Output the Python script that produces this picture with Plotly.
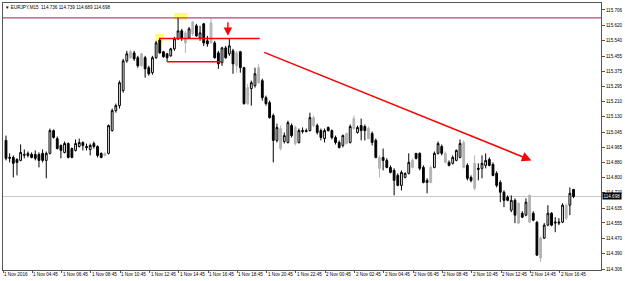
import plotly.graph_objects as go

symbol_title = "EURJPY,M15"
bid_price = 114.698

open_ = [
    115.001, 114.904, 114.909, 114.898, 114.893, 114.920, 114.920, 114.925, 114.925, 114.925,
    114.931, 114.893, 114.931, 115.054, 115.011, 114.974, 114.936, 114.984, 114.957, 114.947,
    114.968, 114.990, 114.968, 114.952, 114.984, 114.968, 114.931, 114.920, 114.931, 115.054,
    115.162, 115.189, 115.270, 115.431, 115.448, 115.474, 115.448, 115.404, 115.448, 115.394,
    115.367, 115.448, 115.544, 115.480, 115.469, 115.458, 115.496, 115.550, 115.593, 115.582,
    115.555, 115.577, 115.620, 115.555, 115.631, 115.539, 115.528, 115.528, 115.474, 115.421,
    115.501, 115.469, 115.485, 115.474, 115.480, 115.394, 115.200, 115.281, 115.297, 115.313,
    115.324, 115.232, 115.205, 115.135, 115.001, 115.065, 114.995, 114.990, 115.081, 115.071,
    114.990, 115.049, 115.054, 115.054, 115.124, 115.081, 115.054, 115.011, 115.071, 115.054,
    115.017, 114.990, 114.974, 115.038, 114.990, 115.119, 115.044, 115.081, 115.076, 115.065,
    115.038, 115.001, 114.909, 114.909, 114.893, 114.855, 114.839, 114.812, 114.758, 114.801,
    114.823, 114.855, 114.931, 114.931, 114.855, 114.774, 114.774, 114.855, 114.931, 114.968,
    114.931, 114.882, 114.877, 114.893, 114.909, 114.990, 114.866, 114.801, 114.877, 114.844,
    114.850, 114.866, 114.898, 114.871, 114.823, 114.774, 114.721, 114.694, 114.624, 114.677,
    114.661, 114.607, 114.597, 114.704, 114.607, 114.559, 114.365, 114.473, 114.543, 114.607,
    114.554, 114.554, 114.559, 114.581, 114.651, 114.736,
]
high = [
    115.027, 114.931, 114.920, 114.904, 114.979, 114.952, 114.941, 114.936, 114.947, 114.936,
    114.952, 114.941, 115.065, 115.060, 115.022, 114.979, 114.995, 114.990, 114.963, 115.006,
    115.011, 114.995, 114.984, 114.984, 114.995, 114.974, 114.936, 114.936, 115.087, 115.173,
    115.200, 115.324, 115.442, 115.485, 115.491, 115.485, 115.458, 115.474, 115.458, 115.404,
    115.458, 115.539, 115.555, 115.485, 115.474, 115.501, 115.561, 115.663, 115.604, 115.593,
    115.614, 115.647, 115.631, 115.620, 115.636, 115.566, 115.663, 115.539, 115.485, 115.507,
    115.512, 115.550, 115.496, 115.485, 115.485, 115.399, 115.307, 115.324, 115.394, 115.415,
    115.334, 115.243, 115.216, 115.146, 115.092, 115.081, 115.044, 115.108, 115.092, 115.081,
    115.065, 115.071, 115.065, 115.151, 115.135, 115.092, 115.065, 115.065, 115.076, 115.060,
    115.027, 115.001, 115.033, 115.044, 115.087, 115.135, 115.081, 115.119, 115.087, 115.076,
    115.049, 115.011, 114.920, 114.957, 114.904, 114.866, 114.850, 114.823, 114.839, 114.828,
    114.931, 114.904, 114.931, 114.936, 114.866, 114.796, 114.866, 114.941, 114.995, 114.979,
    114.941, 114.893, 114.920, 114.952, 115.006, 115.001, 114.877, 114.812, 114.920, 114.877,
    114.920, 114.931, 114.909, 114.882, 114.834, 114.785, 114.731, 114.704, 114.704, 114.688,
    114.667, 114.618, 114.688, 114.710, 114.618, 114.564, 114.484, 114.554, 114.651, 114.613,
    114.586, 114.581, 114.661, 114.661, 114.747, 114.739,
]
low = [
    114.893, 114.882, 114.801, 114.812, 114.888, 114.904, 114.909, 114.904, 114.893, 114.855,
    114.882, 114.796, 114.925, 115.011, 114.952, 114.904, 114.931, 114.904, 114.904, 114.941,
    114.963, 114.947, 114.947, 114.920, 114.957, 114.909, 114.904, 114.914, 114.925, 115.049,
    115.151, 115.173, 115.259, 115.421, 115.442, 115.431, 115.394, 115.399, 115.340, 115.351,
    115.356, 115.442, 115.469, 115.448, 115.426, 115.453, 115.485, 115.544, 115.539, 115.474,
    115.550, 115.566, 115.561, 115.539, 115.512, 115.507, 115.523, 115.442, 115.388, 115.404,
    115.442, 115.458, 115.361, 115.367, 115.367, 115.194, 115.194, 115.189, 115.286, 115.307,
    115.216, 115.189, 115.119, 114.882, 114.990, 114.947, 114.984, 114.984, 115.017, 114.974,
    114.984, 115.038, 115.044, 115.049, 115.071, 115.033, 115.001, 114.990, 115.049, 115.006,
    114.979, 114.957, 114.963, 114.979, 114.984, 115.060, 115.038, 115.001, 115.001, 115.006,
    114.974, 114.904, 114.801, 114.839, 114.850, 114.823, 114.704, 114.753, 114.731, 114.796,
    114.817, 114.850, 114.898, 114.839, 114.769, 114.715, 114.769, 114.850, 114.925, 114.920,
    114.877, 114.861, 114.871, 114.888, 114.904, 114.850, 114.785, 114.774, 114.731, 114.785,
    114.796, 114.850, 114.861, 114.807, 114.747, 114.667, 114.640, 114.672, 114.613, 114.554,
    114.548, 114.581, 114.591, 114.554, 114.564, 114.376, 114.344, 114.468, 114.537, 114.537,
    114.505, 114.543, 114.554, 114.570, 114.597, 114.689,
]
close = [
    114.904, 114.909, 114.877, 114.882, 114.936, 114.925, 114.931, 114.909, 114.904, 114.893,
    114.893, 114.931, 115.054, 115.017, 114.957, 114.947, 114.984, 114.909, 114.909, 114.984,
    114.990, 114.974, 114.963, 114.974, 114.968, 114.920, 114.909, 114.931, 115.081, 115.162,
    115.189, 115.313, 115.431, 115.469, 115.480, 115.442, 115.404, 115.469, 115.388, 115.361,
    115.448, 115.528, 115.474, 115.453, 115.448, 115.496, 115.550, 115.593, 115.555, 115.528,
    115.604, 115.641, 115.566, 115.582, 115.528, 115.523, 115.636, 115.448, 115.415, 115.501,
    115.448, 115.512, 115.415, 115.404, 115.394, 115.200, 115.286, 115.313, 115.361, 115.394,
    115.232, 115.200, 115.124, 115.001, 115.071, 114.957, 115.027, 115.097, 115.027, 114.984,
    115.054, 115.054, 115.049, 115.124, 115.081, 115.044, 115.017, 115.054, 115.054, 115.017,
    114.990, 114.963, 115.027, 114.984, 115.076, 115.065, 115.071, 115.054, 115.054, 115.011,
    114.990, 114.909, 114.850, 114.893, 114.855, 114.828, 114.785, 114.758, 114.828, 114.823,
    114.882, 114.893, 114.904, 114.850, 114.774, 114.785, 114.855, 114.931, 114.984, 114.931,
    114.882, 114.866, 114.909, 114.947, 114.984, 114.855, 114.796, 114.785, 114.742, 114.850,
    114.877, 114.893, 114.866, 114.812, 114.758, 114.721, 114.677, 114.677, 114.677, 114.597,
    114.554, 114.586, 114.667, 114.559, 114.570, 114.381, 114.473, 114.543, 114.607, 114.543,
    114.559, 114.559, 114.651, 114.651, 114.715, 114.698,
]
# bars shown in grey on the reference
grey_bars = [27, 34, 37, 49, 51, 56, 63, 66, 69, 75, 79, 84, 93, 95, 99, 102,
             111, 116, 120, 125, 128, 140, 143, 146, 153]

time_labels = [
    "1 Nov 2016", "1 Nov 04:45", "1 Nov 06:45", "1 Nov 08:45", "1 Nov 10:45",
    "1 Nov 12:45", "1 Nov 14:45", "1 Nov 16:45", "1 Nov 18:45", "1 Nov 20:45",
    "1 Nov 22:45", "2 Nov 00:45", "2 Nov 02:45", "2 Nov 04:45", "2 Nov 06:45",
    "2 Nov 08:45", "2 Nov 10:45", "2 Nov 12:45", "2 Nov 14:45", "2 Nov 16:45",
]
bars_per_label = 8
price_ticks = [115.706, 115.620, 115.540, 115.455, 115.375, 115.295, 115.210, 115.130,
               115.045, 114.965, 114.880, 114.800, 114.720, 114.635, 114.555, 114.470,
               114.390, 114.306]

# drawn objects (bar index, price)
resistance_level = 115.663
upper_box_level = (42, 69.3, 115.552)
lower_box_level = (44, 59.0, 115.426)
trend_arrow = ((70.1, 115.480), (143.5, 114.893))
down_arrow = (60.6, 115.647, 115.566)
highlights = [(40.8, 43.0, 115.528, 115.577), (45.9, 49.5, 115.652, 115.690)]

FONT = "Liberation Sans"
FS = 4.6

n = len(close)
gset = set(grey_bars)
norm_idx = [i for i in range(n) if i not in gset]
grey_idx = [i for i in range(n) if i in gset]

def pick(arr, idx):
    return [arr[i] for i in idx]

fig = go.Figure()
fig.add_trace(go.Candlestick(
    x=norm_idx, open=pick(open_, norm_idx), high=pick(high, norm_idx),
    low=pick(low, norm_idx), close=pick(close, norm_idx),
    increasing=dict(line=dict(color="black", width=1), fillcolor="white"),
    decreasing=dict(line=dict(color="black", width=1), fillcolor="black"),
    whiskerwidth=0, showlegend=False, hoverinfo="skip"))
fig.add_trace(go.Candlestick(
    x=grey_idx, open=pick(open_, grey_idx), high=pick(high, grey_idx),
    low=pick(low, grey_idx), close=pick(close, grey_idx),
    increasing=dict(line=dict(color="#b4b4b4", width=1), fillcolor="#b4b4b4"),
    decreasing=dict(line=dict(color="#b4b4b4", width=1), fillcolor="#b4b4b4"),
    whiskerwidth=0, showlegend=False, hoverinfo="skip"))

shapes = []
for (x0, x1, y0, y1) in highlights:
    shapes.append(dict(type="rect", xref="x", yref="y", x0=x0, x1=x1, y0=y0, y1=y1,
                       fillcolor="#ffff55", line=dict(width=0), layer="below", opacity=0.85))
shapes.append(dict(type="line", xref="paper", yref="y", x0=0, x1=1,
                   y0=resistance_level, y1=resistance_level,
                   line=dict(color="#a01c52", width=1)))
shapes.append(dict(type="line", xref="paper", yref="y", x0=0, x1=1,
                   y0=bid_price, y1=bid_price, line=dict(color="#c8c8c8", width=1), layer="below"))
for (x0, x1, y) in (upper_box_level, lower_box_level):
    shapes.append(dict(type="line", xref="x", yref="y", x0=x0, x1=x1, y0=y, y1=y,
                       line=dict(color="#ff0000", width=1.6)))

annotations = []
(tx0, ty0), (tx1, ty1) = trend_arrow
annotations.append(dict(x=tx1, y=ty1, ax=tx0, ay=ty0, xref="x", yref="y", axref="x", ayref="y",
                        showarrow=True, arrowhead=2, arrowsize=1.2, arrowwidth=1.6,
                        arrowcolor="#ff0000", text=""))
annotations.append(dict(x=down_arrow[0], y=down_arrow[2], ax=down_arrow[0], ay=down_arrow[1],
                        xref="x", yref="y", axref="x", ayref="y",
                        showarrow=True, arrowhead=2, arrowsize=1.2, arrowwidth=1.4,
                        arrowcolor="#ff0000", text=""))
for k, lab in enumerate(time_labels):
    annotations.append(dict(x=k * bars_per_label - 0.8, y=0, xref="x", yref="paper",
                            xanchor="left", yanchor="top", yshift=-1, text=lab,
                            showarrow=False, borderpad=0,
                            font=dict(family=FONT, size=FS, color="black")))
annotations.append(dict(x=0, y=1, xref="paper", yref="paper", xanchor="left", yanchor="top",
                        xshift=1, yshift=-1, showarrow=False, borderpad=0,
                        text="▼ " + symbol_title + "  " + " ".join(
                            f"{v:.3f}" for v in (open_[-1], high[-1], low[-1], close[-1])),
                        font=dict(family=FONT, size=FS, color="black")))
annotations.append(dict(x=1, y=bid_price, xref="paper", yref="y", xanchor="left", yanchor="middle",
                        xshift=1, showarrow=False, text=f"{bid_price:.3f}", bgcolor="black",
                        borderpad=0.5, font=dict(family=FONT, size=FS, color="white")))

fig.update_layout(
    width=625, height=281,
    margin=dict(l=2, r=22, t=2, b=11),
    paper_bgcolor="white", plot_bgcolor="white",
    shapes=shapes, annotations=annotations,
    xaxis=dict(range=[-0.815, 162.5], showgrid=False, zeroline=False, showticklabels=False,
               tickvals=[k * bars_per_label - 0.8 for k in range(len(time_labels))],
               ticks="outside", ticklen=2, tickcolor="#555", showline=True, mirror=True,
               linecolor="#555", linewidth=1, rangeslider=dict(visible=False), fixedrange=True),
    yaxis=dict(range=[114.3006, 115.7436], side="right", showgrid=False, zeroline=False,
               tickvals=price_ticks, ticktext=[f"{v:.3f}" for v in price_ticks],
               ticks="outside", ticklen=3, tickcolor="#555", showline=True, mirror=True,
               linecolor="#555", linewidth=1,
               tickfont=dict(family=FONT, size=FS, color="black"), fixedrange=True),
)

fig.write_html("out.html")
